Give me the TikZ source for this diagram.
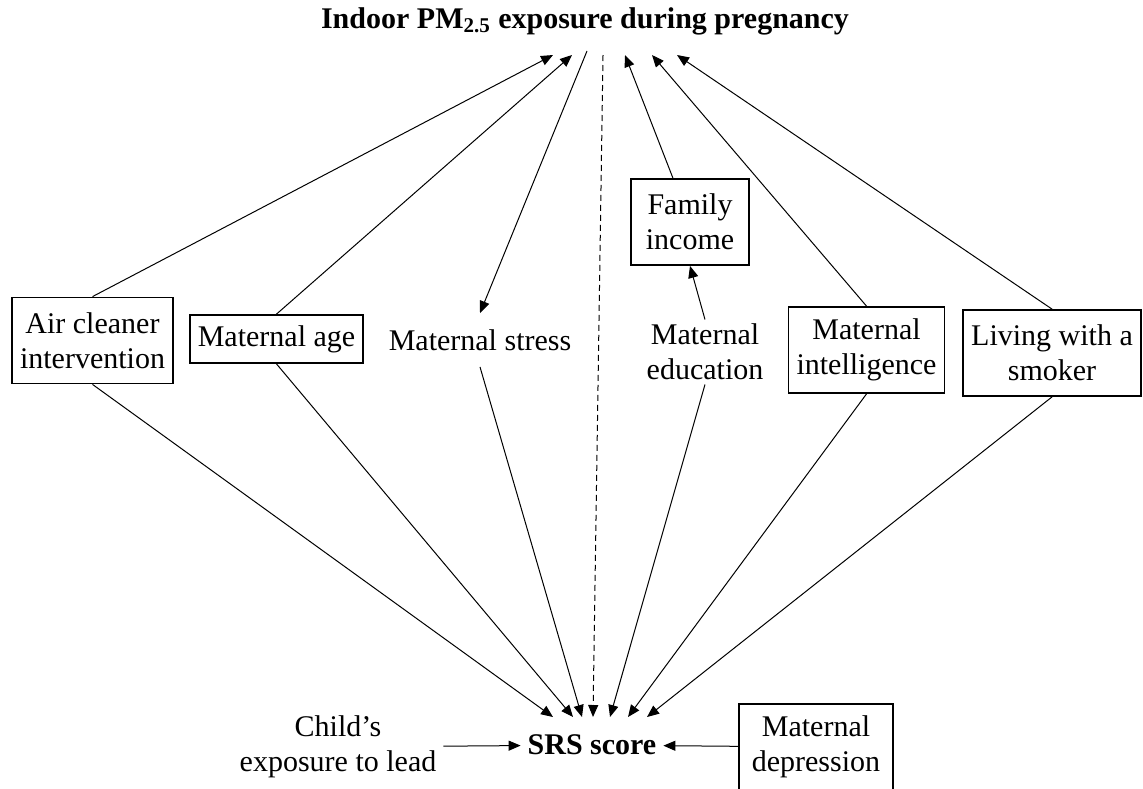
\documentclass[tikz,border=0pt]{standalone}
\usepackage{fontspec}
\setmainfont{Liberation Serif}
\usetikzlibrary{%
	arrows.meta,%
	calc
}

\tikzset{
	every node/.style={font=\fontsize{15}{17.5}\selectfont, align=center},
	factor/.style={draw, line width=0.9pt, inner xsep=4pt, minimum height=43pt},
	link/.style={line width=0.5pt, -{Triangle[length=6pt,width=5pt]}}
}

\begin{document}
\begin{tikzpicture}[x=0.5pt,y=-0.5pt]
			\clip (0,0) rectangle (1143,788);
			
			% Exposure and outcome
			\node (pm) at (585,21) {\bfseries Indoor PM\textsubscript{2.5} exposure during pregnancy};
			\node (srs) at (592,745) {\bfseries SRS score};
			
			% Covariates
			\node[factor] (air) at (92.5,340.5) {Air cleaner\\intervention};
			\node[factor,minimum height=24pt] (age) at (276.5,339) {Maternal age};
			\node[inner ysep=8pt] (stress) at (480,340) {Maternal stress};
			\node[factor,minimum width=59pt] (fam) at (690,222) {Family\\income};
			\node[inner sep=2pt] (edu) at (705,352) {Maternal\\education};
			\node[factor] (intel) at (866.5,350) {Maternal\\intelligence};
			\node[factor] (smoke) at (1052,353) {Living with a\\smoker};
			\node (lead) at (338,747) {Child’s\\exposure to lead};
			\node[factor,minimum width=77pt] (dep) at (816,747) {Maternal\\depression};
			
			% Ends of the lines under the title and over the outcome
			\coordinate (t1) at (553,55);
			\coordinate (t2) at (572,55);
			\coordinate (t0) at (587,51);
			\coordinate (td) at (603,55);
			\coordinate (t3) at (625,55);
			\coordinate (t4) at (652,55);
			\coordinate (t5) at (677,55);
			\coordinate (b1) at (553,717);
			\coordinate (b2) at (573,717);
			\coordinate (b3) at (582,717);
			\coordinate (bd) at (593,717);
			\coordinate (b4) at (610,717);
			\coordinate (b5) at (628,717);
			\coordinate (b6) at (647,717);
			
			% Paths to the exposure
			\draw[link] (air.north) -- (t1);
			\draw[link] (age.north) -- (t2);
			\draw[link] (t0) -- (stress.north);
			\draw[link] (fam) -- (t3);
			\draw[link] (edu.north) -- (fam.south);
			\draw[link] (intel.north) -- (t4);
			\draw[link] (smoke.north) -- (t5);
			
			% Paths to the outcome
			\draw[link] (air.south) -- (b1);
			\draw[link] (age.south) -- (b2);
			\draw[link] (stress.south) -- (b3);
			\draw[link,densely dashed] (td) -- (bd);
			\draw[link] (edu.south) -- (b4);
			\draw[link] (intel.south) -- (b5);
			\draw[link] (smoke.south) -- (b6);
			\draw[link] (lead) -- (srs);
			\draw[link] (dep) -- (srs);
		\end{tikzpicture}
\end{document}
